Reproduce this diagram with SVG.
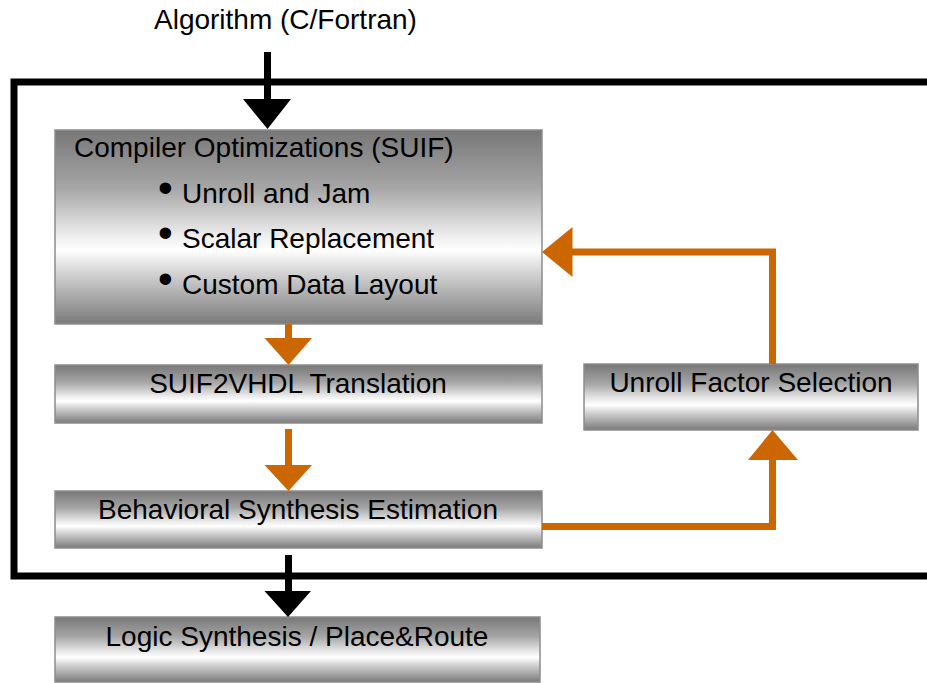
<svg xmlns="http://www.w3.org/2000/svg" width="927" height="683" viewBox="0 0 927 683">
  <style>
    .lbl { font-family: "Liberation Sans", Arial, sans-serif; font-size: 28px; fill: #000; }
    .mid { text-anchor: middle; }
    .bul { font-family: "Liberation Sans", Arial, sans-serif; font-size: 42px; fill: #000; }
    .box { fill: url(#metal); stroke: #8c8c8c; stroke-width: 1.5; }
    .frame { fill: none; stroke: #000; stroke-width: 7; }
    .blk { stroke: #000; stroke-width: 7; fill: none; }
    .blkhead { fill: #000; }
    .org { stroke: #cc6600; stroke-width: 7; fill: none; stroke-linejoin: miter; }
    .orghead { fill: #cc6600; }
  </style>
  <defs>
    <!-- brushed-metal shading: dark top, bright band below centre, dark bottom -->
    <linearGradient id="metal" x1="0" y1="0" x2="0" y2="1">
      <stop offset="0" stop-color="#777777"/>
      <stop offset="0.3" stop-color="#a6a6a6"/>
      <stop offset="0.54" stop-color="#ececec"/>
      <stop offset="0.62" stop-color="#ffffff"/>
      <stop offset="0.74" stop-color="#d2d2d2"/>
      <stop offset="1" stop-color="#7a7a7a"/>
    </linearGradient>
  </defs>

  <rect width="927" height="683" fill="#fff"/>

  <!-- input label -->
  <text class="lbl" x="154" y="29">Algorithm (C/Fortran)</text>

  <!-- enclosing frame (right side runs past the page) -->
  <rect class="frame" x="14" y="82" width="960" height="494"/>

  <g id="compiler-opt">
    <rect class="box" x="55" y="130" width="487" height="194"/>
    <text class="lbl" x="74" y="157">Compiler Optimizations (SUIF)</text>
    <text class="bul" x="158" y="202">•</text>
    <text class="lbl" x="182" y="203">Unroll and Jam</text>
    <text class="bul" x="158" y="247">•</text>
    <text class="lbl" x="182" y="248">Scalar Replacement</text>
    <text class="bul" x="158" y="293">•</text>
    <text class="lbl" x="182" y="294">Custom Data Layout</text>
  </g>

  <g id="suif2vhdl">
    <rect class="box" x="55" y="365" width="487" height="58"/>
    <text class="lbl mid" x="298" y="393">SUIF2VHDL Translation</text>
  </g>

  <g id="behavioral">
    <rect class="box" x="55" y="491" width="487" height="57"/>
    <text class="lbl mid" x="298" y="519">Behavioral Synthesis Estimation</text>
  </g>

  <g id="unroll-factor">
    <rect class="box" x="584" y="364" width="334" height="66"/>
    <text class="lbl mid" x="751" y="392">Unroll Factor Selection</text>
  </g>

  <g id="logic-synth">
    <rect class="box" x="55" y="617" width="485" height="65"/>
    <text class="lbl mid" x="297" y="646">Logic Synthesis / Place&amp;Route</text>
  </g>

  <g id="connectors">
    <!-- input into compiler stage -->
    <line class="blk" x1="267.5" y1="52" x2="267.5" y2="101"/>
    <polygon class="blkhead" points="243,99 291,99 267.5,129"/>

    <!-- compiler -> SUIF2VHDL -->
    <line class="org" x1="288.5" y1="324" x2="288.5" y2="340"/>
    <polygon class="orghead" points="264.5,338 312,338 288.5,365"/>

    <!-- SUIF2VHDL -> behavioral estimation -->
    <line class="org" x1="288.5" y1="429" x2="288.5" y2="467"/>
    <polygon class="orghead" points="264.5,465 312,465 288.5,491"/>

    <!-- estimation -> unroll factor selection -->
    <polyline class="org" points="542,526.5 772.5,526.5 772.5,458"/>
    <polygon class="orghead" points="748,460 798,460 772.5,430"/>

    <!-- unroll factor selection -> back into compiler -->
    <polyline class="org" points="772.5,364 772.5,252 570,252"/>
    <polygon class="orghead" points="572.5,227 572.5,277 542,252"/>

    <!-- out to logic synthesis -->
    <line class="blk" x1="288.5" y1="555" x2="288.5" y2="593"/>
    <polygon class="blkhead" points="264.5,591 311,591 288,617"/>
  </g>
</svg>
